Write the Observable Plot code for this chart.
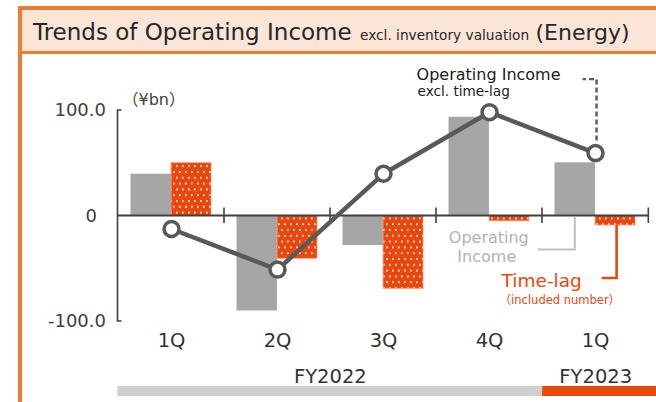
<!DOCTYPE html>
<html>
<head>
<meta charset="utf-8">
<script src="https://cdn.jsdelivr.net/npm/d3@7"></script>
<script src="https://cdn.jsdelivr.net/npm/@observablehq/plot@0.6"></script>
<style>
  html, body { margin: 0; padding: 0; background: #fff; }
  body { width: 656px; height: 402px; overflow: hidden; position: relative; font-family: "DejaVu Sans", "Noto Sans CJK JP", sans-serif; }
  #frame { position: absolute; left: 18px; top: 6px; width: 634px; height: 392px;
           border-left: 4px solid #ed7d31; border-top: 4px solid #ed7d31; }
  #title { height: 39px; padding-top: 2px; line-height: 41px; background: #fbe5d6;
           border-bottom: 3px solid #ed7d31; padding-left: 11px; color: #262626; white-space: nowrap; overflow: hidden; }
  #title .big { font-size: 23px; }
  #title .small { font-size: 13.7px; margin-left: 4px; margin-right: 2px; }
  #title .mid { font-size: 22px; }
  #main, #fy { display: block; line-height: 0; }
</style>
</head>
<body>
<svg width="0" height="0" style="position:absolute">
  <defs>
    <pattern id="dots" width="6" height="11.6" patternUnits="userSpaceOnUse">
      <rect width="6" height="11.6" fill="#e9470e"></rect>
      <rect x="1" y="1.2" width="1.7" height="1.7" fill="#ffffff"></rect>
      <rect x="4" y="7" width="1.7" height="1.7" fill="#ffffff"></rect>
    </pattern>
  </defs>
</svg>
<div id="frame">
  <div id="title"><span class="big">Trends of Operating Income</span><span class="small"> excl. inventory valuation </span><span class="mid">(Energy)</span></div>
  <div id="main"></div>
  <div id="fy"></div>
</div>
<script>
// ---- data ----
const quarters = ["1Q", "2Q", "3Q", "4Q", "1Q"];
const fiscalYears = ["FY2022", "FY2022", "FY2022", "FY2022", "FY2023"];
const operatingIncome = [39.6, -90, -28, 93.6, 50.4];      // gray bars
const timeLag = [50, -40.5, -69, -5, -9];                   // orange dotted bars
const excludingTimeLag = [-12.3, -50.8, 40, 98.4, 59.6];    // line
const yTicks = [-100, 0, 100];
const yTickLabels = ["-100.0", "0", "100.0"];
const unitLabel = "\u00A5bn";
const CJK = "Noto Sans CJK JP";

// ---- layout / style ----
const W = 634, H = 301, ML = 95.5, MR = 7.7, MT = 56, MB = 34;
const bw = (W - ML - MR) / quarters.length;
const half = bw / 2;
const GRAY = "#a6a6a6", ORANGE = "#e9470e", DARK = "#404040", LINE = "#595959";
const fyColors = {FY2022: "#d0cece", FY2023: "#e84a0c"};

const keys = quarters.map((q, i) => fiscalYears[i] + " " + q);
const rows = keys.map((k, i) => ({key: k, oi: operatingIncome[i], tl: timeLag[i], ex: excludingTimeLag[i]}));

const grayInsetL = 12.5, grayInsetR = half;
const orangeInsetL = half, orangeInsetR = 13;

// axis skeleton: y axis line, zero line, band boundary ticks
const skeleton = (index, {x, y}, values, dims) => {
  const g = d3.create("svg:g").attr("fill", "none").attr("stroke", DARK);
  const x0 = dims.marginLeft, x1 = dims.width - dims.marginRight;
  const yTop = y(d3.max(yTicks)), yBot = y(d3.min(yTicks)), y0 = y(0);
  g.append("path").attr("stroke-width", 1.6)
    .attr("d", `M${x0 + 4},${yTop}H${x0}V${yBot}H${x0 + 4}`);
  g.append("line").attr("stroke-width", 2.2)
    .attr("x1", x0).attr("x2", x1).attr("y1", y0).attr("y2", y0);
  const bounds = keys.slice(1).map(k => x(k)).concat([x1]);
  for (const bx of bounds) {
    g.append("line").attr("stroke-width", 1.6)
      .attr("x1", bx).attr("x2", bx).attr("y1", y0 - 8).attr("y2", y0 + 7.5);
  }
  return g.node();
};

function paren(textSel, inner) {
  textSel.append("tspan").attr("font-family", CJK).text("\uFF08");
  textSel.append("tspan").text(inner);
  textSel.append("tspan").attr("font-family", CJK).text("\uFF09");
}

// annotations anchored to the last quarter
const notes = (index, {x, y}, values, dims) => {
  const g = d3.create("svg:g").attr("text-anchor", "start");
  const last = keys.length - 1;
  const bx = x(keys[last]);
  const cx = bx + half;
  const py = y(excludingTimeLag[last]);
  const y0 = y(0);
  const yt = y(timeLag[last]);
  const grayC = bx + (grayInsetL + bw - grayInsetR) / 2;
  const orangeC = bx + (orangeInsetL + bw - orangeInsetR) / 2 + 1.5;

  // dashed leader to line
  g.append("path").attr("fill", "none").attr("stroke", LINE).attr("stroke-width", 2.4)
    .attr("stroke-dasharray", "5,3")
    .attr("d", `M${cx + 1.5},${py - 12}V${py - 73.5}H${cx - 12.5}`);
  g.append("text").attr("x", cx - 178.5).attr("y", py - 72.5)
    .attr("fill", "#1a1a1a").attr("font-size", 16).text("Operating Income");
  g.append("text").attr("x", cx - 177.5).attr("y", py - 56.5)
    .attr("fill", "#1a1a1a").attr("font-size", 13.6).text("excl. time-lag");

  // gray leader to operating income bar
  g.append("path").attr("fill", "none").attr("stroke", "#c0c0c0").attr("stroke-width", 2)
    .attr("d", `M${grayC},${y0 + 1}V${y0 + 34}H${grayC - 37}`);
  g.append("text").attr("x", grayC - 86).attr("y", y0 + 27.5).attr("text-anchor", "middle")
    .attr("fill", "#b3b3b3").attr("font-size", 16).text("Operating");
  g.append("text").attr("x", grayC - 88).attr("y", y0 + 46.5).attr("text-anchor", "middle")
    .attr("fill", "#b3b3b3").attr("font-size", 16).text("Income");

  // orange leader to time-lag bar
  g.append("path").attr("fill", "none").attr("stroke", ORANGE).attr("stroke-width", 2.6)
    .attr("d", `M${orangeC},${yt}V${yt + 53}H${orangeC - 15}`);
  g.append("text").attr("x", orangeC - 115).attr("y", yt + 62.5)
    .attr("fill", ORANGE).attr("font-size", 18.5).text("Time-lag");
  g.append("text").attr("x", orangeC - 117).attr("y", yt + 79)
    .attr("fill", ORANGE).attr("font-size", 11.5).call(paren, "included number");

  // unit label
  g.append("text").attr("x", dims.marginLeft + 5).attr("y", y(d3.max(yTicks)) - 5)
    .attr("fill", DARK).attr("font-size", 16).call(paren, unitLabel);
  return g.node();
};

const fmtY = v => yTickLabels[yTicks.indexOf(v)];

const main = Plot.plot({
  width: W, height: H, marginLeft: ML, marginRight: MR, marginTop: MT, marginBottom: MB,
  style: {fontFamily: "DejaVu Sans, Noto Sans CJK JP, sans-serif", fontSize: "17px", color: DARK, background: "transparent", overflow: "visible"},
  x: {type: "band", domain: keys, padding: 0, label: null},
  y: {domain: [d3.min(yTicks), d3.max(yTicks)], label: null},
  marks: [
    Plot.barY(rows, {x: "key", y: "oi", fill: GRAY, insetLeft: grayInsetL, insetRight: grayInsetR}),
    Plot.barY(rows, {x: "key", y: "tl", fill: "url(#dots)", stroke: "#f2946c", strokeWidth: 0.8, insetLeft: orangeInsetL, insetRight: orangeInsetR}),
    skeleton,
    Plot.line(rows, {x: "key", y: "ex", stroke: LINE, strokeWidth: 4.5}),
    Plot.dot(rows, {x: "key", y: "ex", r: 7.5, fill: "white", stroke: LINE, strokeWidth: 3.5}),
    Plot.axisX({anchor: "bottom", label: null, tickSize: 0, tickPadding: 12, fontSize: 19.5, tickFormat: k => quarters[keys.indexOf(k)], fill: "#333"}),
    Plot.axisY({anchor: "left", label: null, ticks: yTicks.filter(v => v !== 0), tickSize: 0, tickPadding: 12, fontSize: 18, tickFormat: fmtY, fill: DARK}),
    Plot.axisY({anchor: "left", label: null, ticks: yTicks.filter(v => v === 0), tickSize: 0, tickPadding: 21, fontSize: 18, tickFormat: fmtY, fill: DARK}),
    notes
  ]
});
document.getElementById("main").append(main);

// fiscal-year strip
const spans = d3.groups(fiscalYears.map((fy, i) => ({fy, i})), d => d.fy)
  .map(([fy, arr]) => ({fy, start: arr[0].i, end: arr[arr.length - 1].i + 1}));

const fy = Plot.plot({
  width: W, height: 47, marginLeft: ML, marginRight: MR, marginTop: 31, marginBottom: 6,
  style: {fontFamily: "DejaVu Sans, sans-serif", background: "transparent", overflow: "visible"},
  x: {domain: [0, quarters.length], axis: null},
  marks: [
    Plot.barX(spans, {x1: "start", x2: "end", fill: d => fyColors[d.fy], insetRight: -MR}),
    Plot.text(spans, {x: d => (d.start + d.end) / 2, text: "fy", frameAnchor: "top", lineAnchor: "bottom", dy: -4, fontSize: 19.5, fill: "#333"})
  ]
});
document.getElementById("fy").append(fy);
</script>
</body>
</html>
